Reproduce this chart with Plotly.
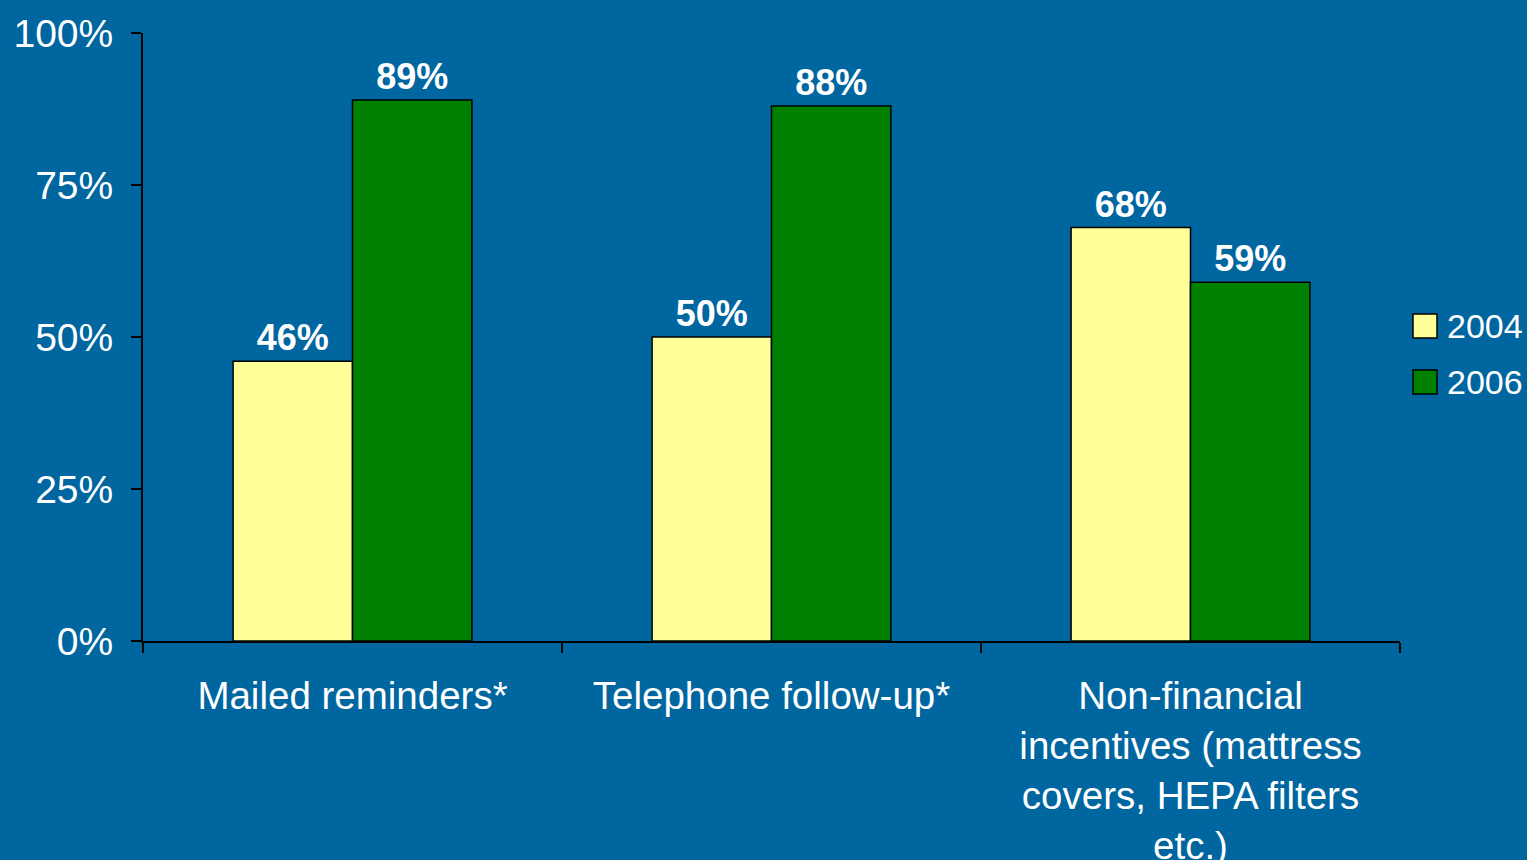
import plotly.graph_objects as go

# Survey results: share of practices using each follow-up method
categories = [
    "Mailed reminders*",
    "Telephone follow-up*",
    "Non-financial<br>incentives (mattress<br>covers, HEPA filters<br>etc.)",
]
years = ["2004", "2006"]
values_2004 = [46, 50, 68]
values_2006 = [89, 88, 59]
series_colors = ["#FFFF99", "#008000"]
y_tick_vals = [0, 25, 50, 75, 100]
y_tick_text = ["0%", "25%", "50%", "75%", "100%"]

BG = "#00669F"
FONT = "Liberation Sans, Arial, sans-serif"

# Plot-area geometry in pixels (used to place the legend in paper units)
PLOT_L, PLOT_R, PLOT_T, PLOT_B = 143, 1400, 33, 641
PW, PH = PLOT_R - PLOT_L, PLOT_B - PLOT_T

fig = go.Figure()
for name, vals, color in zip(years, [values_2004, values_2006], series_colors):
    fig.add_trace(go.Bar(
        name=name,
        x=categories,
        y=vals,
        marker=dict(color=color, line=dict(color="black", width=1.5)),
        text=[f"{v}%" for v in vals],
        textposition="outside",
        textfont=dict(family=FONT, size=36, color="white", weight="bold"),
        cliponaxis=False,
        showlegend=False,
    ))

# Legend swatches and labels at the right of the plot
legend_y = [326, 382]
for i, (name, color) in enumerate(zip(years, series_colors)):
    yc = (PLOT_B - legend_y[i]) / PH
    fig.add_shape(
        type="rect", xref="paper", yref="paper",
        x0=(1413 - PLOT_L) / PW, x1=(1437 - PLOT_L) / PW,
        y0=yc - 12 / PH, y1=yc + 12 / PH,
        fillcolor=color, line=dict(color="black", width=1.5),
    )
    fig.add_annotation(
        xref="paper", yref="paper",
        x=(1445 - PLOT_L) / PW, y=yc,
        text=name, showarrow=False, xanchor="left", yanchor="middle",
        font=dict(family=FONT, size=34, color="white"),
    )

fig.update_layout(
    width=1527, height=860,
    paper_bgcolor=BG, plot_bgcolor=BG,
    margin=dict(l=PLOT_L, r=1527 - PLOT_R, t=PLOT_T, b=860 - PLOT_B, autoexpand=False),
    barmode="group",
    bargap=0.43,
    bargroupgap=0,
    font=dict(family=FONT, color="white"),
)
fig.update_yaxes(
    range=[0, 100],
    tickvals=y_tick_vals, ticktext=y_tick_text,
    tickfont=dict(family=FONT, size=39, color="white"),
    showgrid=False, zeroline=False,
    showline=True, linecolor="black", linewidth=2,
    ticks="outside", ticklen=10, tickcolor="black", tickwidth=2,
    ticklabelstandoff=10,
)
fig.update_xaxes(
    type="category",
    tickfont=dict(family=FONT, size=38.5, color="white"),
    showgrid=False,
    showline=True, linecolor="black", linewidth=2,
    ticks="outside", tickson="boundaries", ticklen=10, tickcolor="black", tickwidth=2,
    ticklabelstandoff=20,
)

fig.write_html("out.html")
